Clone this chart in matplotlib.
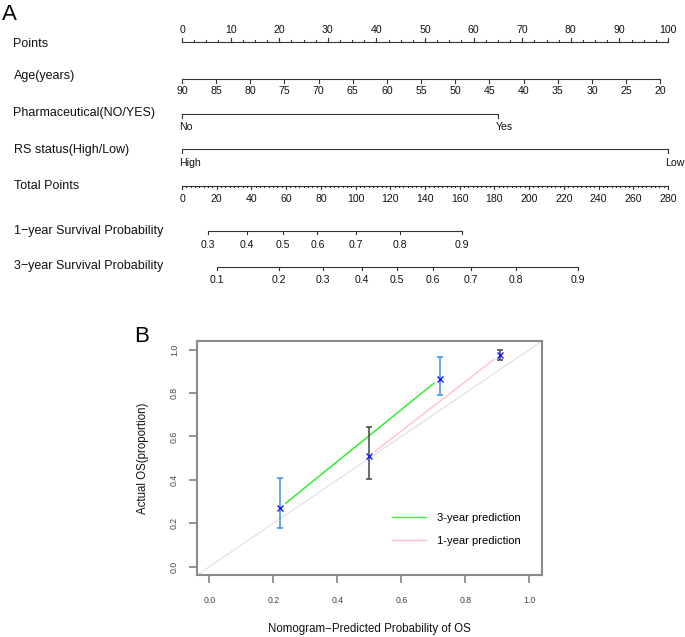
import matplotlib
matplotlib.use('Agg')
import matplotlib.pyplot as plt
import numpy as np
from matplotlib.transforms import blended_transform_factory
from matplotlib.lines import Line2D

plt.rcParams['font.family'] = ['Liberation Sans', 'DejaVu Sans']

W, H = 685, 637

# ---------------- Nomogram data ----------------
points_ticks = list(range(0, 101, 10))
age_ticks = [90, 85, 80, 75, 70, 65, 60, 55, 50, 45, 40, 35, 30, 25, 20]
age_oldest, age_youngest = 90, 20
age_points_youngest = 98.4          # points given to age 20
pharm_levels = ['No', 'Yes']
pharm_points = [0, 65]
rs_levels = ['High', 'Low']
rs_points = [0, 100]
total_max = 280
total_ticks = list(range(0, 281, 20))
surv1_probs = ['0.3', '0.4', '0.5', '0.6', '0.7', '0.8', '0.9']
surv1_total = [14.8, 37.3, 58.0, 78.0, 100.1, 125.6, 161.5]
surv3_probs = ['0.1', '0.2', '0.3', '0.4', '0.5', '0.6', '0.7', '0.8', '0.9']
surv3_total = [20.3, 55.7, 81.4, 103.5, 124.0, 144.4, 166.5, 192.2, 228.0]
row_labels = ['Points', 'Age(years)', 'Pharmaceutical(NO/YES)', 'RS status(High/Low)',
              'Total Points', '1\u2212year Survival Probability', '3\u2212year Survival Probability']

# ---------------- Calibration data ----------------
cal3_pred = [0.22, 0.72]
cal3_obs = [0.270, 0.867]
cal3_lo = [0.177, 0.790]
cal3_hi = [0.407, 0.966]
cal1_pred = [0.50, 0.909]
cal1_obs = [0.511, 0.977]
cal1_lo = [0.402, 0.954]
cal1_hi = [0.643, 0.997]
legend_labels = ['3-year prediction', '1-year prediction']

fig = plt.figure(figsize=(W / 100, H / 100), dpi=100)

# nomogram axes: x in "Points" units, y in pixel rows
axn = fig.add_axes([182 / W, 0, 486 / W, 1])
axn.set_xlim(0, 100)
axn.set_ylim(H, 0)
axn.axis('off')
axn.set_zorder(0)

LC = '#333333'
TC = '#111111'
TFS = 7.6
LFS = 9


def hline(x0, x1, y):
    axn.plot([x0, x1], [y, y], color=LC, lw=0.8, solid_capstyle='butt', clip_on=False)


def ticks(xs, y, length):
    for x in xs:
        axn.plot([x, x], [y, y + length], color=LC, lw=0.8, clip_on=False)


def labels(xs, texts, y, ha='center', dx=0.0):
    for x, t in zip(xs, texts):
        axn.text(x + dx, y, t, ha=ha, va='center', fontsize=TFS, color=TC, clip_on=False)


# Points (ticks upward, labels above)
y = 42
hline(0, 100, y)
ticks(points_ticks, y, -4.5)
ticks(np.arange(0, 100.01, 2.5), y, -2.2)
labels(points_ticks, [str(v) for v in points_ticks], 30)

# Age
age_pts = [(age_oldest - a) / (age_oldest - age_youngest) * age_points_youngest for a in age_ticks]
y = 79
hline(min(age_pts), max(age_pts), y)
ticks(age_pts, y, 3.5)
labels(age_pts, [str(a) for a in age_ticks], 91)

# Pharmaceutical
y = 113.5
hline(min(pharm_points), max(pharm_points), y)
ticks(pharm_points, y, 4)
labels(pharm_points, pharm_levels, 127, ha='left', dx=-0.5)

# RS status
y = 149
hline(min(rs_points), max(rs_points), y)
ticks(rs_points, y, 4)
labels(rs_points, rs_levels, 163, ha='left', dx=-0.5)

# Total points
scale = 100 / total_max
y = 185.5
hline(0, total_max * scale, y)
ticks([t * scale for t in total_ticks], y, 3.5)
ticks(np.arange(0, total_max + 0.01, 2.5) * scale, y, 1.8)
labels([t * scale for t in total_ticks], [str(t) for t in total_ticks], 198.5)

# 1-year survival
y = 230.7
xs = [t * scale for t in surv1_total]
hline(min(xs), max(xs), y)
ticks(xs, y, 3.7)
labels(xs, surv1_probs, 245)

# 3-year survival
y = 266.7
xs = [t * scale for t in surv3_total]
hline(min(xs), max(xs), y)
ticks(xs, y, 3.7)
labels(xs, surv3_probs, 280)

# row labels
tr = blended_transform_factory(fig.transFigure, axn.transData)
for lab, yb in zip(row_labels, [46.8, 79.5, 116.2, 153.4, 189.2, 234.4, 269.4]):
    axn.text(13.5 / W, yb, lab, transform=tr, ha='left', va='baseline', fontsize=LFS, color=TC)

fig.text(1.5 / W, 1 - 19.5 / H, 'A', fontsize=16, ha='left', va='baseline', color='black')
fig.text(134 / W, 1 - 341.5 / H, 'B', fontsize=16, ha='left', va='baseline', color='black')

# ---------------- Calibration plot ----------------
ax = fig.add_axes([196.7 / W, 1 - 575.3 / H, (542 - 196.7) / W, (575.3 - 341) / H])
ax.set_zorder(2)
ax.set_xlim(-0.04, 1.04)
ax.set_ylim(-0.04, 1.04)
for s in ax.spines.values():
    s.set_color('#8a8a8a')
    s.set_linewidth(1.5)

ticks_v = [0.0, 0.2, 0.4, 0.6, 0.8, 1.0]
ax.set_xticks(ticks_v)
ax.set_xticklabels(['%.1f' % v for v in ticks_v])
ax.set_yticks(ticks_v)
ax.set_yticklabels(['%.1f' % v for v in ticks_v], rotation=90, va='center')
ax.tick_params(axis='both', length=5.8, width=1.1, color='#777777', labelsize=6.3,
               labelcolor='#444444')
ax.tick_params(axis='x', pad=9.0)
ax.tick_params(axis='y', pad=7.0)

ax.axline((0, 0), slope=1, color='#e4e4e4', lw=1.0, zorder=1)


def gap_line(xv, yv, color, gap_px=7.5):
    pts = ax.transData.transform(np.column_stack([xv, yv]))
    for i in range(len(pts) - 1):
        p0, p1 = pts[i], pts[i + 1]
        d = p1 - p0
        u = d / np.hypot(*d)
        a = ax.transData.inverted().transform([p0 + u * gap_px, p1 - u * gap_px])
        ax.plot(a[:, 0], a[:, 1], color=color, lw=1.0, zorder=2)


gap_line(cal3_pred, cal3_obs, '#22ee22')
gap_line(cal1_pred, cal1_obs, '#ffc0cb')

ax.errorbar(cal3_pred, cal3_obs,
            yerr=[np.subtract(cal3_obs, cal3_lo), np.subtract(cal3_hi, cal3_obs)],
            fmt='none', ecolor='#3a8ee6', elinewidth=1.1, capsize=2.3, capthick=1.1, zorder=3)
ax.errorbar(cal1_pred, cal1_obs,
            yerr=[np.subtract(cal1_obs, cal1_lo), np.subtract(cal1_hi, cal1_obs)],
            fmt='none', ecolor='#444444', elinewidth=1.1, capsize=2.3, capthick=1.1, zorder=3)
ax.plot(cal3_pred + cal1_pred, cal3_obs + cal1_obs, 'x', color='#1a1aff', ms=5, mew=1.0, zorder=4)

handles = [Line2D([], [], color='#44ee44', lw=1.0), Line2D([], [], color='#ffc0cb', lw=1.0)]
ax.legend(handles, legend_labels, frameon=False, fontsize=8, loc='upper left',
          bbox_to_anchor=(392 / W, 1 - 513 / H), bbox_transform=fig.transFigure,
          borderpad=0, borderaxespad=0, handlelength=3.05, handletextpad=1.0,
          labelspacing=1.2)

fig.text(369 / W, 1 - 629 / H, 'Nomogram\u2212Predicted Probability of OS', fontsize=8.3,
         ha='center', va='center', color=TC)
fig.text(143 / W, 1 - 458 / H, 'Actual OS(proportion)', fontsize=8.3, rotation=90,
         ha='center', va='center', color=TC)

fig.savefig('out.png', dpi=100)
